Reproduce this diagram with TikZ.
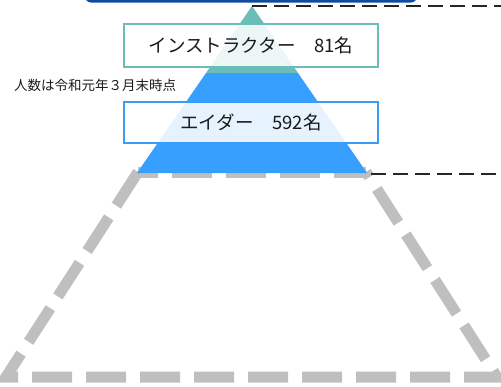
\documentclass[tikz,border=0pt]{standalone}
\usepackage{fontspec}
\newfontfamily\jpfont{Noto Sans CJK JP}
\definecolor{navy}{HTML}{0F4C9E}
\definecolor{tealc}{HTML}{6BBDB8}
\definecolor{bluec}{HTML}{37A0FF}
\definecolor{boxblue}{HTML}{3C9CF5}
\definecolor{grayc}{HTML}{BFBFBF}
\definecolor{dashc}{HTML}{262626}
\definecolor{txt}{HTML}{1A1A1A}
\tikzset{
  grayframe/.style={draw=grayc, line width=11pt, dash pattern=on 40pt off 14pt, line join=miter},
  leader/.style={draw=dashc, line width=1.8pt, dash pattern=on 15pt off 7pt},
  countbox/.style={minimum width=254pt, inner sep=0pt, fill=white, fill opacity=0.88, text opacity=1,
                   line width=1.6pt, font=\jpfont\fontsize{18.5}{20}\selectfont, text=txt},
}
\begin{document}
\begin{tikzpicture}[x=1pt, y=-1pt]
\useasboundingbox (0,0) rectangle (501,386);
\clip (0,0) rectangle (501,386);
% coordinates
\coordinate (apex) at (252,6);
\coordinate (midL) at (206,73);
\coordinate (midR) at (298,73);
\coordinate (baseL) at (137,173);
\coordinate (baseR) at (367,173);
\coordinate (endTop) at (501,6);
\coordinate (endBase) at (501,174);
% gray dashed outline
\draw[grayframe] (138,172) -- (6,377) -- (497,377) -- (366,172);
\draw[grayframe, dash phase=20pt] (138,172) -- (366,172);
% pyramid
\fill[tealc] (apex) -- (midR) -- (midL) -- cycle;
\fill[bluec] (midL) -- (midR) -- (baseR) -- (baseL) -- cycle;
% leaders
\draw[leader] (apex) -- (endTop);
\draw[leader] (baseR) ++(4,1) coordinate (bs) (bs) -- (endBase);
% boxes
\node[countbox, draw=tealc, minimum height=43pt] (instr) at (251,45.5) {インストラクター　81名};
\node[countbox, draw=boxblue, minimum height=41pt] (aider) at (251,122.5) {エイダー　592名};
% note
\node[font=\jpfont\fontsize{13.5}{15}\selectfont, text=txt, inner sep=0pt] (note) at (95,85) {人数は令和元年３月末時点};
% top bar
\fill[navy, rounded corners=6pt] (85,-30) rectangle (417,2.5);
\end{tikzpicture}
\end{document}
